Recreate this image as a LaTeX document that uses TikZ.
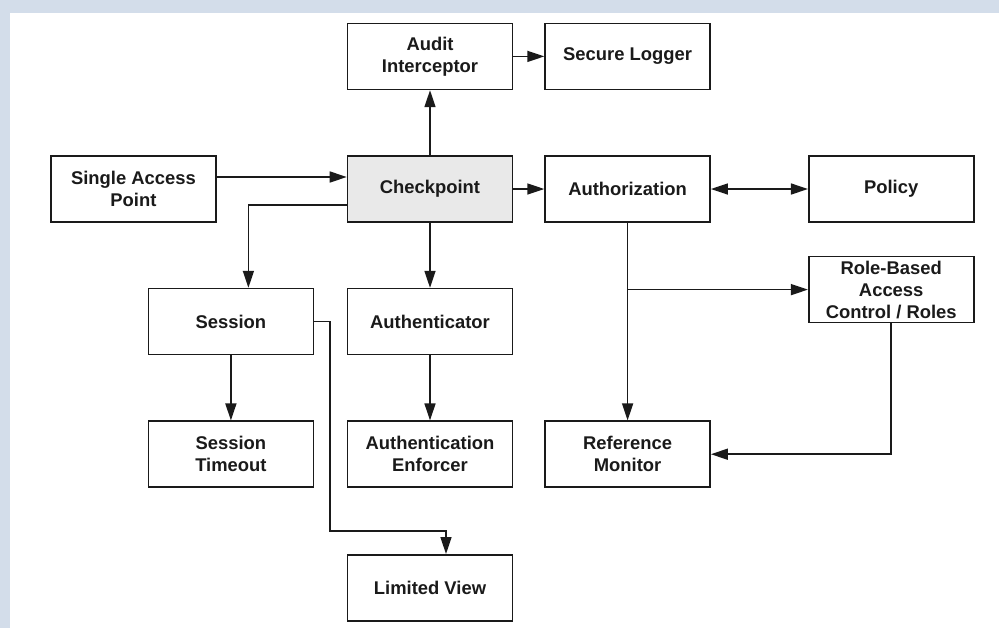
\documentclass[tikz,border=0pt]{standalone}
\usepackage{fontspec}
\setmainfont{Liberation Sans}
\usepackage{tikz}
\usetikzlibrary{arrows.meta,positioning,calc}
\definecolor{secFrame}{HTML}{D3DDEA}
\definecolor{secInk}{HTML}{1A1A1A}
\definecolor{secGate}{HTML}{E9E9E9}

\begin{document}
\begin{tikzpicture}[font=\fontsize{9.2}{11}\selectfont\bfseries,
    box/.style={draw=secInk,line width=0.8pt,fill=white,text=secInk,
                minimum width=82.5pt,minimum height=33pt,inner sep=1pt,
                align=center},
    link/.style={draw=secInk,line width=0.8pt,-{Triangle[length=8.5pt,width=5.5pt]}},
    node distance=32.5pt]
  % page and frame
  \useasboundingbox (0,0) rectangle (499.5pt,-314pt);
  \fill[white] (0,0) rectangle (499.5pt,-314pt);
  \fill[secFrame] (0,0) rectangle (499.5pt,-6.5pt);
  \fill[secFrame] (0,0) rectangle (5pt,-314pt);

  \node[box,fill=secGate] (checkpoint) at (215pt,-94.5pt) {Checkpoint};
  \node[box,above=of checkpoint] (audit) {Audit\\Interceptor};
  \node[box,right=15.5pt of audit] (logger) {Secure Logger};
  \node[box,left=65pt of checkpoint] (sap) {Single Access\\Point};
  \node[box,right=15.5pt of checkpoint] (authz) {Authorization};
  \node[box,right=48.5pt of authz] (policy) {Policy};
  \node[box,below=16.5pt of policy] (rbac) {Role-Based\\Access\\Control / Roles};
  \node[box,below=of checkpoint] (authn) {Authenticator};
  \node[box,left=16.25pt of authn] (session) {Session};
  \node[box,below=of session] (timeout) {Session\\Timeout};
  \node[box,below=of authn] (enforcer) {Authentication\\Enforcer};
  \node[box,below=33pt of enforcer] (limited) {Limited View};
  \node[box,right=15.5pt of enforcer] (refmon) {Reference\\Monitor};

  \draw[link] ([yshift=6pt]sap.east) -- ([yshift=6pt]checkpoint.west);
  \draw[link] ([yshift=-8pt]checkpoint.west) -| ([xshift=8.75pt]session.north);
  \draw[link] (checkpoint.north) -- (audit.south);
  \draw[link] (audit.east) -- (logger.west);
  \draw[link] (checkpoint.east) -- (authz.west);
  \draw[link] (checkpoint.south) -- (authn.north);
  \draw[link,{Triangle[length=8.5pt,width=5.5pt]}-{Triangle[length=8.5pt,width=5.5pt]}]
    (authz.east) -- (policy.west);
  \draw[link] (authz.south) -- (refmon.north);
  \coordinate (branch) at (authz.south |- rbac.west);
  \draw[link] (branch) -- (rbac.west);
  \draw[link] (rbac.south) |- (refmon.east);
  \draw[link] (session.south) -- (timeout.north);
  \draw[link] (authn.south) -- (enforcer.north);
  \draw[link] (session.east) -- ++(8pt,0)
    |- ([xshift=8pt,yshift=11.5pt]limited.north) -- ([xshift=8pt]limited.north);
\end{tikzpicture}
\end{document}
